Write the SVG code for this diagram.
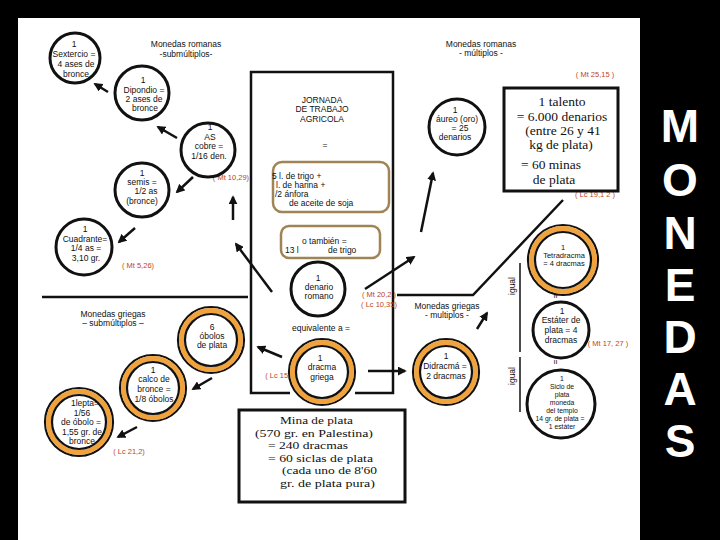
<svg xmlns="http://www.w3.org/2000/svg" width="720" height="540" viewBox="0 0 720 540">
<defs>
<style>
.t{font-family:"Liberation Sans",Arial,sans-serif;font-size:8.5px;fill:#111;text-anchor:middle}
.ts{font-size:7.5px}
.tx{font-size:6.8px}
.lb{font-family:"Liberation Sans",Arial,sans-serif;font-size:8.5px;fill:#111;text-anchor:middle}
.r{font-family:"Liberation Sans",Arial,sans-serif;font-size:7.5px;fill:#c0441c;text-anchor:middle}
.sf{font-family:"Liberation Serif","Times New Roman",serif;font-size:13.5px;fill:#111;text-anchor:middle}
.sm{font-size:10.8px;text-anchor:start}
.big{font-family:"Liberation Sans",Arial,sans-serif;font-weight:bold;font-size:46px;fill:#fff;text-anchor:middle}
.bc{fill:#fff;stroke:#111;stroke-width:3}
.ob{fill:none;stroke:#111;stroke-width:2.2}
.oo{fill:none;stroke:#f0a23c;stroke-width:5}
.ib{fill:#fff;stroke:#111;stroke-width:2.2}
.rb{fill:#fff;stroke:#a08455;stroke-width:2.5}
.bx{fill:#fff;stroke:#111;stroke-width:3}
.ln{fill:none;stroke:#111;stroke-width:2.5}
.ar{fill:none;stroke:#111;stroke-width:2.5;marker-end:url(#ah)}
</style>
<marker id="ah" viewBox="0 0 10 10" refX="8" refY="5" markerWidth="9" markerHeight="9" markerUnits="userSpaceOnUse" orient="auto">
<path d="M0,0 L10,5 L0,10 z" fill="#111"/>
</marker>
</defs>
<rect x="0" y="0" width="720" height="540" fill="#000"/>
<rect x="18" y="18" width="622" height="522" fill="#fff"/>

<g id="title">
<text class="big" x="680" y="142">M</text>
<text class="big" x="680" y="196">O</text>
<text class="big" x="680" y="249">N</text>
<text class="big" x="680" y="301">E</text>
<text class="big" x="680" y="353">D</text>
<text class="big" x="680" y="405">A</text>
<text class="big" x="680" y="457">S</text>
</g>

<g id="connectors">
<path class="ln" d="M251,297 V72 H393 V296"/>
<path class="ln" d="M251,297 V393 H290"/>
<path class="ln" d="M355,393 H393 V296"/>
<path class="ln" d="M42,297 H248"/>
<path class="ln" d="M397,295 H473 L563,200"/>
<path class="ar" d="M108,92 L95,84"/>
<path class="ar" d="M177,138 L158,127"/>
<path class="ar" d="M193,177 L177,192"/>
<path class="ar" d="M135,228 L119,242"/>
<path class="ar" d="M233,220 L233,197"/>
<path class="ar" d="M272,292 L236,244"/>
<path class="ar" d="M365,289 L414,257"/>
<path class="ar" d="M421,232 L433,173"/>
<path class="ar" d="M212,378 L193,389"/>
<path class="ar" d="M137,427 L118,437"/>
<path class="ar" d="M282,357 L258,347"/>
<path class="ar" d="M368,371 L405,371"/>
<path class="ar" d="M477,329 L487,313"/>
<path class="ln" d="M520,263 V352" style="stroke-width:1.5"/>
<path class="ln" d="M520,357 V412" style="stroke-width:1.5"/>
</g>

<g id="labels">
<text class="lb" x="186" y="47">Monedas romanas</text>
<text class="lb" x="186" y="57">-submúltiplos-</text>
<text class="lb" x="481" y="47">Monedas romanas</text>
<text class="lb" x="481" y="56">- múltiplos -</text>
<text class="lb" x="113" y="317">Monedas griegas</text>
<text class="lb" x="113" y="326">– submúltiplos –</text>
<text class="lb" x="447" y="309">Monedas griegas</text>
<text class="lb" x="447" y="318">- multiplos -</text>
<text class="lb" x="321" y="331">equivalente a =</text>
<text class="lb" transform="translate(515,286) rotate(-90)">igual</text>
<text class="lb" transform="translate(515,376) rotate(-90)">igual</text>
<text class="lb" transform="translate(553,296) rotate(90)">=</text>
<text class="lb" transform="translate(553,362) rotate(90)">=</text>
<text class="r" x="595" y="77">( Mt 25,15 )</text>
<text class="r" x="595" y="197">( Lc 19,1 2 )</text>
<text class="r" x="231" y="180">( Mt 10,29)</text>
<text class="r" x="138" y="268">( Mt 5,26)</text>
<text class="r" x="379" y="297">( Mt 20,2 )</text>
<text class="r" x="379" y="307">( Lc 10,35)</text>
<text class="r" x="281" y="378">( Lc 15,8)</text>
<text class="r" x="608" y="346">( Mt 17, 27 )</text>
<text class="r" x="129" y="454">( Lc 21,2)</text>
</g>

<g id="jornada">
<text class="lb" x="322" y="103">JORNADA</text>
<text class="lb" x="322" y="112">DE TRABAJO</text>
<text class="lb" x="322" y="122">AGRICOLA</text>
<text class="lb" x="325" y="148">=</text>
</g>

<g id="box-trigo">
<rect class="rb" x="273" y="162" width="116" height="50" rx="9"/>
<text class="lb" x="272" y="179" style="text-anchor:start">5 l.  de trigo +</text>
<text class="lb" x="276" y="188" style="text-anchor:start">l.  de harina +</text>
<text class="lb" x="275" y="197" style="text-anchor:start">/2  ánfora</text>
<text class="lb" x="289" y="206" style="text-anchor:start">de aceite de soja</text>
</g>

<g id="box-tambien">
<rect class="rb" x="281" y="226" width="99" height="32" rx="8"/>
<text class="lb" x="302" y="244" style="text-anchor:start">o también =</text>
<text class="lb" x="285" y="253" style="text-anchor:start">13 l</text>
<text class="lb" x="328" y="253" style="text-anchor:start">de trigo</text>
</g>

<g id="talento">
<rect class="bx" x="504" y="88" width="114" height="103"/>
<text class="sf" x="562" y="106">1 talento</text>
<text class="sf" x="562" y="121">= 6.000 denarios</text>
<text class="sf" x="563" y="135">(entre 26 y 41</text>
<text class="sf" x="561" y="149">kg de plata)</text>
<text class="sf" x="551" y="169">= 60 minas</text>
<text class="sf" x="554" y="184">de plata</text>
</g>

<g id="mina">
<rect class="bx" x="239" y="410" width="166" height="92"/>
<text class="sf sm" x="280" y="424" textLength="73" lengthAdjust="spacingAndGlyphs">Mina de plata</text>
<text class="sf sm" x="255" y="436.5" textLength="118" lengthAdjust="spacingAndGlyphs">(570 gr. en Palestina)</text>
<text class="sf sm" x="268" y="449" textLength="80" lengthAdjust="spacingAndGlyphs">= 240 dracmas</text>
<text class="sf sm" x="268" y="461.5" textLength="105" lengthAdjust="spacingAndGlyphs">= 60 siclas de plata</text>
<text class="sf sm" x="282" y="474" textLength="95" lengthAdjust="spacingAndGlyphs">(cada uno de 8'60</text>
<text class="sf sm" x="280" y="486.5" textLength="95" lengthAdjust="spacingAndGlyphs">gr. de plata pura)</text>
</g>

<g id="sextercio">
<circle class="bc" cx="75" cy="58" r="25"/>
<text class="t" x="74" y="47">1</text>
<text class="t" x="74" y="57">Sextercio =</text>
<text class="t" x="76" y="67">4 ases de</text>
<text class="t" x="76" y="77">bronce</text>
</g>

<g id="dipondio">
<circle class="bc" cx="142" cy="93" r="27"/>
<text class="t" x="143" y="83">1</text>
<text class="t" x="144" y="93">Dipondio =</text>
<text class="t" x="144" y="102">2 ases de</text>
<text class="t" x="145" y="111">bronce</text>
</g>

<g id="as">
<circle class="bc" cx="208" cy="150" r="27"/>
<text class="t" x="210" y="130">1</text>
<text class="t" x="210" y="140">AS</text>
<text class="t" x="209" y="149">cobre =</text>
<text class="t" x="209" y="159">1/16 den.</text>
</g>

<g id="semis">
<circle class="bc" cx="142" cy="190" r="27"/>
<text class="t" x="142" y="176">1</text>
<text class="t" x="142" y="185">semis =</text>
<text class="t" x="146" y="194">1/2 as</text>
<text class="t" x="142" y="204">(bronce)</text>
</g>

<g id="cuadrante">
<circle class="bc" cx="84" cy="247" r="28"/>
<text class="t" x="85" y="232">1</text>
<text class="t" x="85" y="242">Cuadrante=</text>
<text class="t" x="86" y="251">1/4 as =</text>
<text class="t" x="86" y="261">3,10 gr.</text>
</g>

<g id="aureo">
<circle class="bc" cx="457" cy="127" r="28"/>
<text class="t" x="455" y="113">1</text>
<text class="t" x="457" y="122">áureo (oro)</text>
<text class="t" x="460" y="131">= 25</text>
<text class="t" x="455" y="140">denarios</text>
</g>

<g id="denario">
<circle class="bc" cx="318" cy="289" r="27"/>
<text class="t" x="318" y="281">1</text>
<text class="t" x="319" y="290">denario</text>
<text class="t" x="319" y="299">romano</text>
</g>

<g id="obolos">
<circle class="ob" cx="211" cy="340" r="33"/>
<circle class="oo" cx="211" cy="340" r="29.5"/>
<circle class="ib" cx="211" cy="340" r="26"/>
<text class="t" x="212" y="330">6</text>
<text class="t" x="212" y="339">óbolos</text>
<text class="t" x="212" y="348">de plata</text>
</g>

<g id="calco">
<circle class="ob" cx="153" cy="388" r="33"/>
<circle class="oo" cx="153" cy="388" r="29.5"/>
<circle class="ib" cx="153" cy="388" r="26"/>
<text class="t" x="153" y="373">1</text>
<text class="t" x="154" y="382">calco de</text>
<text class="t" x="154" y="392">bronce =</text>
<text class="t" x="154" y="402">1/8 óbolos</text>
</g>

<g id="lepta">
<circle class="ob" cx="79" cy="422" r="34"/>
<circle class="oo" cx="79" cy="422" r="30.5"/>
<circle class="ib" cx="79" cy="422" r="27"/>
<text class="t" x="85" y="406">1lepta=</text>
<text class="t" x="82" y="416">1/56</text>
<text class="t" x="81" y="425">de óbolo =</text>
<text class="t" x="82" y="435">1,55 gr. de</text>
<text class="t" x="82" y="444">bronce</text>
</g>

<g id="dracma">
<circle class="ob" cx="322" cy="372" r="33"/>
<circle class="oo" cx="322" cy="372" r="29.5"/>
<circle class="ib" cx="322" cy="372" r="26"/>
<text class="t" x="320" y="361">1</text>
<text class="t" x="322" y="370">dracma</text>
<text class="t" x="322" y="380">griega</text>
</g>

<g id="didracma">
<circle class="ob" cx="446" cy="372" r="33"/>
<circle class="oo" cx="446" cy="372" r="29.5"/>
<circle class="ib" cx="446" cy="372" r="26"/>
<text class="t" x="446" y="359">1</text>
<text class="t" x="445" y="369">Didracmá =</text>
<text class="t" x="446" y="379">2 dracmas</text>
</g>

<g id="tetradracma">
<circle class="ob" cx="563" cy="260" r="35"/>
<circle class="oo" cx="563" cy="260" r="31.5"/>
<circle class="ib" cx="563" cy="260" r="28"/>
<text class="t ts" x="563" y="250">1</text>
<text class="t ts" x="564" y="258">Tetradracma</text>
<text class="t ts" x="564" y="266">= 4 dracmas</text>
</g>

<g id="estater">
<circle class="bc" cx="561" cy="330" r="28"/>
<text class="t" x="562" y="314">1</text>
<text class="t" x="561" y="323">Estáter de</text>
<text class="t" x="561" y="333">plata = 4</text>
<text class="t" x="561" y="343">dracmas</text>
</g>

<g id="siclo">
<circle class="bc" cx="561" cy="404" r="34"/>
<text class="t tx" x="562" y="381">1</text>
<text class="t tx" x="562" y="389">Siclo de</text>
<text class="t tx" x="562" y="397">plata</text>
<text class="t tx" x="562" y="405">moneda</text>
<text class="t tx" x="562" y="413">del templo</text>
<text class="t tx" x="560" y="421">14 gr. de plata =</text>
<text class="t tx" x="562" y="429">1 estáter</text>
</g>
</svg>
